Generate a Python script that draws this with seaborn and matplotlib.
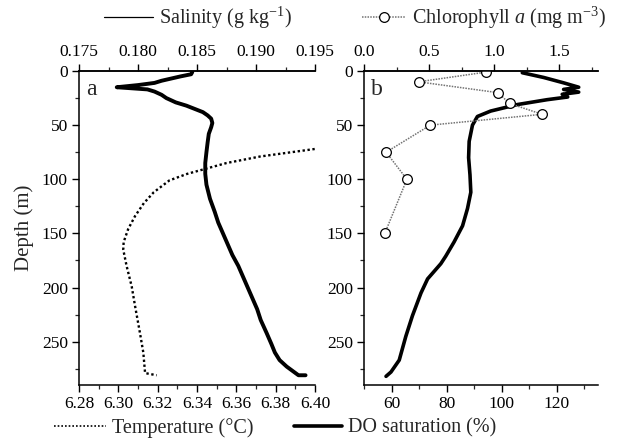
import numpy as np
import pandas as pd
import matplotlib
matplotlib.use("Agg")
import matplotlib.pyplot as plt
import seaborn as sns
from matplotlib.lines import Line2D
from matplotlib.ticker import MultipleLocator, FormatStrFormatter

# ---------------- data ----------------
sal_depth = [1, 3, 5, 7, 9, 11, 13, 15, 16, 17, 19, 22, 25, 29, 32, 35, 38, 41, 44, 48, 52,
             58, 66, 75, 85, 95, 105, 118, 130, 140, 150, 160, 170, 180, 190, 200, 210, 220,
             230, 242, 252, 260, 267, 273, 277, 281, 281]
sal_value = [0.1846, 0.1845, 0.1836, 0.1828, 0.1820, 0.1814, 0.1800, 0.1782, 0.1795, 0.1808,
             0.1814, 0.1820, 0.1824, 0.1832, 0.1841, 0.1848, 0.1855, 0.1859, 0.1862, 0.1863,
             0.1862, 0.1860, 0.1859, 0.1858, 0.1857, 0.1857, 0.1858, 0.1861, 0.1865, 0.1868,
             0.1872, 0.1876, 0.1880, 0.1885, 0.1889, 0.1893, 0.1897, 0.1901, 0.1904, 0.1909,
             0.1913, 0.1916, 0.1920, 0.1926, 0.1931, 0.1936, 0.1942]

temp_depth = [60, 66, 72, 79, 85, 91, 95, 101, 112, 122, 134, 146, 158, 165, 180, 199, 217,
              242, 260, 279, 281]
temp_value = [6.46, 6.43, 6.40, 6.372, 6.355, 6.343, 6.335, 6.326, 6.318, 6.313, 6.3085, 6.305,
              6.3027, 6.3025, 6.3042, 6.3068, 6.3085, 6.311, 6.3127, 6.3136, 6.3195]

do_depth = [1.6, 6, 11, 15, 17, 19.5, 21.5, 24, 26.5, 31, 37, 42, 50, 65, 80, 96, 112, 127,
            143, 158, 171, 178, 192, 205, 226, 245, 267, 278, 282]
do_value = [107.5, 115.3, 122.6, 128, 122.5, 128, 122, 124, 116.5, 105.7, 96, 91.2, 89.4,
            88.2, 88, 88.5, 88.8, 87.6, 85.8, 82.7, 79.7, 77.9, 73.1, 70.7, 67.6, 65.2, 62.8,
            59.8, 58]

chl_depth = [1, 10, 20, 30, 40, 50, 75, 100, 150]
chl_value = [0.94, 0.42, 1.03, 1.12, 1.37, 0.51, 0.17, 0.33, 0.16]

depth_ticks = [0, 50, 100, 150, 200, 250]

# ---------------- style ----------------
sns.set_style("ticks")
plt.rcParams["font.family"] = ["Liberation Serif", "DejaVu Serif"]
plt.rcParams["mathtext.fontset"] = "custom"
plt.rcParams["mathtext.rm"] = "Liberation Serif"
plt.rcParams["mathtext.it"] = "Liberation Serif:italic"
plt.rcParams["axes.linewidth"] = 1.1
plt.rcParams["axes.edgecolor"] = "black"

TICK_FS = 12.5
LAB_FS = 14.5

fig = plt.figure(figsize=(6.25, 4.44), dpi=100)
W, H = 625, 444
ax_a = fig.add_axes([79 / W, 1 - 385 / H, 236 / W, 314 / H])
ax_b = fig.add_axes([364 / W, 1 - 385 / H, 234 / W, 314 / H])

sal_df = pd.DataFrame({"depth": sal_depth, "sal": sal_value})
temp_df = pd.DataFrame({"depth": temp_depth, "temp": temp_value})
do_df = pd.DataFrame({"depth": do_depth, "do": do_value})
chl_df = pd.DataFrame({"depth": chl_depth, "chl": chl_value})

# ---- panel a ----
sns.lineplot(data=temp_df, x="temp", y="depth", sort=False, estimator=None, ax=ax_a,
             color="black", lw=1.7, linestyle=(0, (1, 1.1)))
ax_a2 = ax_a.twiny()
sns.lineplot(data=sal_df, x="sal", y="depth", sort=False, estimator=None, ax=ax_a2,
             color="black", lw=2.8)

ax_a.set_xlim(6.28, 6.40)
ax_a2.set_xlim(0.175, 0.195)
ax_a.xaxis.set_major_locator(MultipleLocator(0.02))
ax_a.xaxis.set_minor_locator(MultipleLocator(0.01))
ax_a.xaxis.set_major_formatter(FormatStrFormatter("%.2f"))
ax_a2.xaxis.set_major_locator(MultipleLocator(0.005))
ax_a2.xaxis.set_minor_locator(MultipleLocator(0.0025))
ax_a2.xaxis.set_major_formatter(FormatStrFormatter("%.3f"))

# ---- panel b ----
sns.lineplot(data=do_df, x="do", y="depth", sort=False, estimator=None, ax=ax_b,
             color="black", lw=2.6)
ax_b2 = ax_b.twiny()
sns.lineplot(data=chl_df, x="chl", y="depth", sort=False, estimator=None, ax=ax_b2,
             color="0.45", lw=1.1, linestyle=(0, (1, 0.8)), marker="o", markersize=7,
             markerfacecolor="white", markeredgecolor="black", markeredgewidth=0.9)
ax_b.set_xlim(50, 135)
ax_b2.set_xlim(0, 1.8)
ax_b.xaxis.set_major_locator(MultipleLocator(20))
ax_b.xaxis.set_minor_locator(MultipleLocator(10))
ax_b2.xaxis.set_major_locator(MultipleLocator(0.5))
ax_b2.xaxis.set_minor_locator(MultipleLocator(0.25))
ax_b2.xaxis.set_major_formatter(FormatStrFormatter("%.1f"))
ax_b.set_xticks([60, 80, 100, 120])

for ax in (ax_a, ax_a2, ax_b, ax_b2):
    ax.set_ylim(290, 0)
    ax.set_xlabel("")
    ax.set_ylabel("")
    ax.spines["right"].set_visible(False)
    ax.tick_params(which="major", direction="out", length=5, width=1.0,
                   labelsize=TICK_FS, pad=3, colors="black")
    ax.tick_params(which="minor", direction="out", length=3, width=0.9)

for ax in (ax_a, ax_b):
    ax.set_yticks(depth_ticks)
    ax.yaxis.set_minor_locator(MultipleLocator(25))
    ax.spines["top"].set_visible(True)
for ax in (ax_a2, ax_b2):
    ax.tick_params(axis="y", which="both", left=False, labelleft=False)
    ax.spines["left"].set_visible(False)
    ax.spines["bottom"].set_visible(False)
    ax.spines["top"].set_visible(True)

ax_a.set_ylabel("Depth (m)", fontsize=LAB_FS + 0.5, labelpad=6)

ax_a.text(0.03, 0.975, "a", transform=ax_a.transAxes, fontsize=17, va="top", ha="left")
ax_b.text(0.03, 0.975, "b", transform=ax_b.transAxes, fontsize=17, va="top", ha="left")

# ---- legends acting as axis titles ----
def add_key(handle, label, x, y, hl=2.3):
    leg = fig.legend(handles=[handle], labels=[label], loc="center",
                     bbox_to_anchor=(x / W, 1 - y / H), frameon=False,
                     fontsize=LAB_FS, handlelength=hl, handletextpad=0.3,
                     borderpad=0, borderaxespad=0, numpoints=1)
    return leg

add_key(Line2D([], [], color="black", lw=0.9), "Salinity (g kg$^{-1}$)", 198, 18, 2.4)
add_key(Line2D([], [], color="0.45", lw=1.1, linestyle=(0, (1, 0.8)), marker="o",
               markersize=7, markerfacecolor="white", markeredgecolor="black",
               markeredgewidth=0.9),
        "Chlorophyll $\\it{a}$ (mg m$^{-3}$)", 484, 18, 2.2)
add_key(Line2D([], [], color="black", lw=1.2, linestyle=(0, (1, 1.2))),
        "Temperature (°C)", 154, 428, 2.6)
add_key(Line2D([], [], color="black", lw=2.6), "DO saturation (%)", 395, 428, 2.4)

fig.savefig("out.png", dpi=100)
